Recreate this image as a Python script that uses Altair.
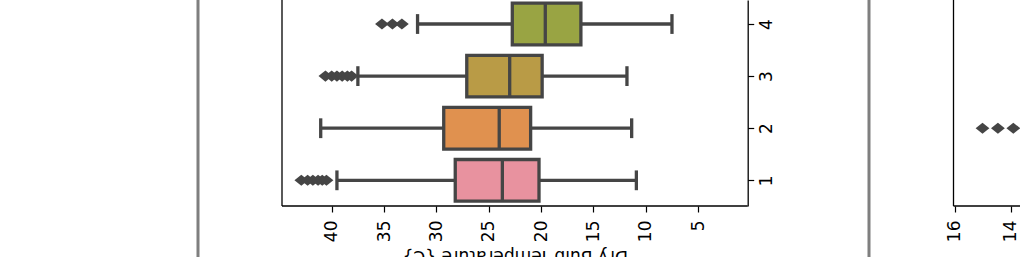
import altair as alt
import pandas as pd

# ---------------- data ----------------
months = [1, 2, 3, 4]
q1 = [20.2, 21.0, 19.9, 16.2]
medians = [23.7, 24.0, 23.0, 19.6]
q3 = [28.2, 29.3, 27.1, 22.75]
whisker_low = [10.9, 11.35, 11.8, 7.5]
whisker_high = [39.5, 41.05, 37.5, 31.8]
box_colors = ["#E8929F", "#E0914F", "#B99B46", "#99A443"]

outlier_months = [1, 1, 1, 1, 1, 1, 3, 3, 3, 3, 3, 3, 4, 4, 4]
outlier_values = [42.9, 42.3, 41.8, 41.3, 40.9, 40.5,
                  40.6, 40.0, 39.5, 39.0, 38.5, 38.1,
                  35.2, 34.2, 33.3]

panel2_outlier_months = [2, 2, 2]
panel2_outlier_values = [15.0, 14.45, 13.9]

x1_ticks = [40, 35, 30, 25, 20, 15, 10, 5]
x2_ticks = [16, 14]
x_title = "Dry Bulb Temperature {C}"

# ---------------- styling / layout ----------------
LINE = "#454545"
FONT = "DejaVu Sans"
FS = 17
LW = 3.3
W, H = 738, 206

boxes = pd.DataFrame({"month": months, "q1": q1, "median": medians, "q3": q3,
                      "lo": whisker_low, "hi": whisker_high, "color": box_colors})
outl = pd.DataFrame({"month": outlier_months, "value": outlier_values})
outl2 = pd.DataFrame({"month": panel2_outlier_months, "value": panel2_outlier_values})

Y_DOM = [0.507, 4.461]
X1_LEFT, X1_RIGHT_EDGE = 44.747, 0.267
X1_DOM = [-25.74, 44.747]
X2_LEFT = 16.036
X2_DOM = [13.661, 40.018]

YS = alt.Scale(domain=Y_DOM, nice=False, zero=False)
X1S = alt.Scale(domain=X1_DOM, reverse=True, nice=False, zero=False)
X2S = alt.Scale(domain=X2_DOM, reverse=True, nice=False, zero=False)

YA = alt.Axis(orient="right", offset=-272.3, values=months, format="d", title="",
              domain=True, domainColor="black", domainWidth=1.3,
              ticks=True, tickColor="black", tickWidth=1.2, tickSize=6,
              labelAngle=270, labelAlign="center", labelBaseline="top",
              labelPadding=5, labelFont=FONT, labelFontSize=FS, labelColor="black",
              grid=False, labelOverlap=False, labelBound=False)

X1A = alt.Axis(orient="bottom", values=x1_ticks, format="d", domain=False, grid=False,
               ticks=True, tickColor="black", tickWidth=1.2, tickSize=6,
               labelAngle=270, labelPadding=8, labelFont=FONT, labelFontSize=FS,
               labelColor="black", labelOverlap=False, labelBound=False, labelFlush=False,
               title=x_title, titleAngle=180, titleBaseline="alphabetic", titleAlign="center",
               titleX=232.8, titleY=44, titleFont=FONT, titleFontSize=FS,
               titleFontWeight="normal", titleColor="black")

X2A = alt.Axis(orient="bottom", values=x2_ticks, format="d", domain=False, grid=False,
               ticks=True, tickColor="black", tickWidth=1.2, tickSize=6,
               labelAngle=270, labelPadding=8, labelFont=FONT, labelFontSize=FS,
               labelColor="black", labelOverlap=False, labelBound=False, labelFlush=False,
               title="")

diamond = "M-1,0L0,-0.8L1,0L0,0.8Z"
DSIZE = 190

base = alt.Chart(boxes).transform_calculate(
    ylo="datum.month - 0.4", yhi="datum.month + 0.4",
    clo="datum.month - 0.19", chi="datum.month + 0.19")

whisk_low = base.mark_rule(color=LINE, strokeWidth=LW).encode(
    x=alt.X("lo:Q", scale=X1S, axis=X1A), x2="q1:Q",
    y=alt.Y("month:Q", scale=YS, axis=YA))
whisk_high = base.mark_rule(color=LINE, strokeWidth=LW).encode(
    x=alt.X("q3:Q", scale=X1S, axis=X1A), x2="hi:Q",
    y=alt.Y("month:Q", scale=YS, axis=YA))
box = base.mark_rect(stroke=LINE, strokeWidth=LW).encode(
    x=alt.X("q1:Q", scale=X1S, axis=X1A), x2="q3:Q",
    y=alt.Y("ylo:Q", scale=YS, axis=YA), y2="yhi:Q",
    fill=alt.Fill("color:N", scale=None))
med = base.mark_rule(color=LINE, strokeWidth=LW).encode(
    x=alt.X("median:Q", scale=X1S, axis=X1A),
    y=alt.Y("ylo:Q", scale=YS, axis=YA), y2="yhi:Q")
cap_lo = base.mark_rule(color=LINE, strokeWidth=LW).encode(
    x=alt.X("lo:Q", scale=X1S, axis=X1A),
    y=alt.Y("clo:Q", scale=YS, axis=YA), y2="chi:Q")
cap_hi = base.mark_rule(color=LINE, strokeWidth=LW).encode(
    x=alt.X("hi:Q", scale=X1S, axis=X1A),
    y=alt.Y("clo:Q", scale=YS, axis=YA), y2="chi:Q")
fliers = alt.Chart(outl).mark_point(shape=diamond, filled=True, size=DSIZE,
                                    color=LINE, opacity=1, strokeWidth=0).encode(
    x=alt.X("value:Q", scale=X1S, axis=X1A),
    y=alt.Y("month:Q", scale=YS, axis=YA))

# panel-1 frame (left + bottom; right side is the category axis line)
frame = pd.DataFrame({"a": [X1_LEFT], "b": [X1_RIGHT_EDGE], "y0": [Y_DOM[0]], "y1": [Y_DOM[1]]})
frame_left = alt.Chart(frame).mark_rule(color="black", strokeWidth=1.3).encode(
    x=alt.X("a:Q", scale=X1S, axis=X1A),
    y=alt.Y("y0:Q", scale=YS, axis=YA), y2="y1:Q")
frame_bottom = alt.Chart(frame).mark_rule(color="black", strokeWidth=1.3).encode(
    x=alt.X("a:Q", scale=X1S, axis=X1A), x2="b:Q",
    y=alt.Y("y0:Q", scale=YS, axis=YA))

# grey separators between figures
seps = alt.Chart(pd.DataFrame({"s": [0]})).mark_rule(color="#7f7f7f", strokeWidth=3).encode(
    x=alt.value(-84), y=alt.value(0), y2=alt.value(260))
seps2 = alt.Chart(pd.DataFrame({"s": [0]})).mark_rule(color="#7f7f7f", strokeWidth=3).encode(
    x=alt.value(587), y=alt.value(0), y2=alt.value(260))

panel1 = alt.layer(seps, seps2, whisk_low, whisk_high, box, med, cap_lo, cap_hi, fliers,
                   frame_left, frame_bottom)

# panel 2 (cropped at the right)
frame2 = pd.DataFrame({"a": [X2_LEFT], "b": [X2_DOM[0]], "y0": [Y_DOM[0]], "y1": [Y_DOM[1]]})
f2_left = alt.Chart(frame2).mark_rule(color="black", strokeWidth=1.3).encode(
    x=alt.X("a:Q", scale=X2S, axis=X2A),
    y=alt.Y("y0:Q", scale=YS, axis=YA), y2="y1:Q")
f2_bottom = alt.Chart(frame2).mark_rule(color="black", strokeWidth=1.3).encode(
    x=alt.X("a:Q", scale=X2S, axis=X2A), x2="b:Q",
    y=alt.Y("y0:Q", scale=YS, axis=YA))
fliers2 = alt.Chart(outl2).mark_point(shape=diamond, filled=True, size=DSIZE,
                                      color=LINE, opacity=1, strokeWidth=0).encode(
    x=alt.X("value:Q", scale=X2S, axis=X2A),
    y=alt.Y("month:Q", scale=YS, axis=YA))
panel2 = alt.layer(f2_left, f2_bottom, fliers2)

chart = alt.layer(panel1, panel2).resolve_scale(x="independent").properties(
    width=W, height=H,
    padding={"left": 282, "top": 0, "right": 0, "bottom": 51},
    autosize=alt.AutoSizeParams(type="none"),
    background="white",
).configure_view(stroke=None)

chart.save("out.html", embed_options={"renderer": "svg", "actions": False})
